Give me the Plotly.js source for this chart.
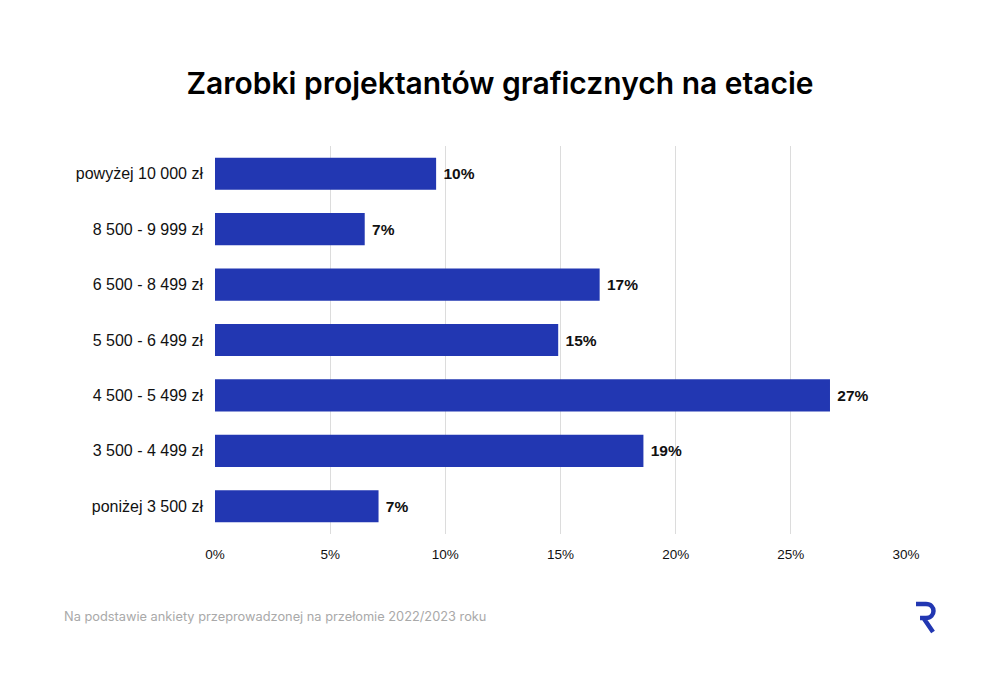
<!DOCTYPE html>
<html><head><meta charset="utf-8">
<script src="https://cdn.plot.ly/plotly-3.0.1.min.js"></script>
<style>html,body{margin:0;padding:0;background:#fff}#chart{width:1000px;height:698px}</style>
</head><body><div id="chart"></div>
<script>
const categories = ["powyżej 10 000 zł","8 500 - 9 999 zł","6 500 - 8 499 zł","5 500 - 6 499 zł","4 500 - 5 499 zł","3 500 - 4 499 zł","poniżej 3 500 zł"];
const values = [9.6, 6.5, 16.7, 14.9, 26.7, 18.6, 7.1];
const valueLabels = ["10%","7%","17%","15%","27%","19%","7%"];
const xTickVals = [0,5,10,15,20,25,30];
const xTickText = ["0%","5%","10%","15%","20%","25%","30%"];

const W=1000,H=698,L=215,R=94,T=146,B=164;
const pw=W-L-R, ph=H-T-B;
const px=x=>((x-L)/pw).toFixed(4), py=y=>((H-B-y)/ph).toFixed(4);
const P=(x,y)=>px(x)+','+py(y);
const logoPath = 'M'+P(916,604)+' L'+P(926,604)+' C'+P(936,604)+' '+P(936,618)+' '+P(926,618)+' L'+P(920,618)+' M'+P(923.5,618)+' L'+P(933,632);

const trace = {
  type:'bar', orientation:'h',
  y: categories, x: values,
  text: valueLabels.map(t=>' '+t), textposition:'outside', cliponaxis:false,
  textfont:{family:'Liberation Sans, Arial, sans-serif', size:15.5, color:'#111', weight:700},
  marker:{color:'#2237b2'}, width:0.58, hoverinfo:'skip'
};
const layout = {
  width:W, height:H, margin:{l:L,r:R,t:T,b:B},
  paper_bgcolor:'#fff', plot_bgcolor:'#fff',
  showlegend:false,
  title:{text:'Zarobki projektantów graficznych na etacie', x:0.5, xanchor:'center', y:0.88, yanchor:'middle',
    font:{family:'Inter, Liberation Sans, sans-serif', size:30, color:'#000', weight:600}},
  xaxis:{range:[0,30], tickvals:xTickVals, ticktext:xTickText, showgrid:true, gridcolor:'#dcdcdc', gridwidth:1,
    zeroline:false, showline:false, ticks:'', ticklabelstandoff:10,
    tickfont:{family:'Liberation Sans, Arial, sans-serif', size:13.5, color:'#111'}, fixedrange:true},
  yaxis:{categoryorder:'array', categoryarray:categories.slice().reverse(), autorange:false, range:[-0.5,6.5],
    showgrid:false, showline:false, zeroline:false, ticks:'', ticklabelstandoff:11,
    tickfont:{family:'Liberation Sans, Arial, sans-serif', size:16, color:'#111'}, fixedrange:true},
  annotations:[{text:'Na podstawie ankiety przeprowadzonej na przełomie 2022/2023 roku', xref:'paper', yref:'paper',
    x:px(62), y:py(617), xanchor:'left', yanchor:'middle', showarrow:false,
    font:{family:'Inter, Liberation Sans, sans-serif', size:12.8, color:'#a9a9a9'}}],
  shapes:[{type:'path', xref:'paper', yref:'paper', path:logoPath, line:{color:'#2237b2', width:4.5}, layer:'above'}]
};
Plotly.newPlot('chart',[trace],layout,{displayModeBar:false,staticPlot:true});
</script></body></html>
